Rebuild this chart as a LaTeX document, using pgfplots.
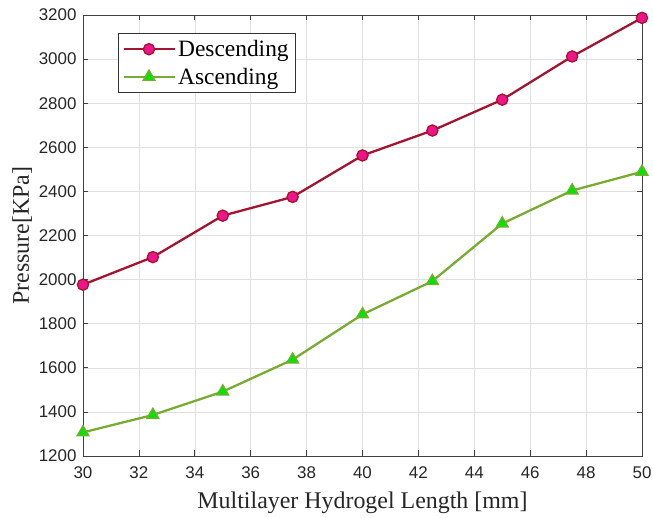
\documentclass[border=0pt]{standalone}
\usepackage{pgfplots}
\pgfplotsset{compat=1.18}
\usepackage{fontspec}
\setmainfont{Liberation Serif}
\newfontfamily\arial{Liberation Sans}
\definecolor{dred}{RGB}{162,20,47}
\definecolor{pinkf}{RGB}{240,20,140}
\definecolor{lgreen}{RGB}{119,172,48}
\definecolor{gfill}{RGB}{0,230,0}
\begin{document}
\begin{tikzpicture}
\begin{axis}[
  name=ax,
  scale only axis, width=559bp, height=441bp,
  xmin=30, xmax=50, ymin=1200, ymax=3200,
  xtick={30,32,...,50}, ytick={1200,1400,...,3200},
  grid=major, major grid style={draw=black!12, line width=0.6pt},
  tick align=inside, major tick length=5.5bp,
  tick style={draw=black!75, line width=0.7pt},
  axis line style={draw=black!75, line width=0.7pt},
  ticklabel style={font=\arial\fontsize{17}{20}\selectfont, text=black!85},
  yticklabel style={xshift=-3bp},
  xticklabel style={yshift=-7bp},
  /pgf/number format/assume math mode=true,
  /pgf/number format/1000 sep={},
  xlabel={Multilayer Hydrogel Length [mm]},
  ylabel={Pressure[KPa]},
  label style={font=\fontsize{24}{28}\selectfont, text=black!85},
  xlabel style={yshift=-7bp},
  legend style={at={(35/559,1-18/441)}, anchor=north west, draw=black!80, line width=0.7pt,
    font=\fontsize{23.5}{27}\selectfont, inner xsep=4.5bp, inner ysep=5bp, row sep=6bp, cells={anchor=west}},
  legend image code/.code={\draw[#1] (0bp,0bp) -- (25bp,0bp) (51bp,0bp) -- (25bp,0bp) plot coordinates {(25bp,0bp)};},
]
\addplot[color=dred, line width=2.3bp, mark=*, mark size=5.6bp, mark options={fill=pinkf, draw=dred, line width=1.3bp}]
coordinates {(30,1977) (32.5,2102) (35,2290) (37.5,2375) (40,2563) (42.5,2676) (45,2816) (47.5,3012) (50,3187)};
\addlegendentry{Descending}
\addplot[color=lgreen, line width=2.3bp, mark=triangle*, mark size=6.8bp, mark options={fill=gfill, draw=lgreen, line width=1.3bp}]
coordinates {(30,1307) (32.5,1386) (35,1492) (37.5,1637) (40,1842) (42.5,1993) (45,2254) (47.5,2404) (50,2489)};
\addlegendentry{Ascending}
\end{axis}
\pgfresetboundingbox
\path ([xshift=-83bp,yshift=15bp]ax.north west) rectangle ([xshift=11bp,yshift=-62bp]ax.south east);
\end{tikzpicture}
\end{document}
